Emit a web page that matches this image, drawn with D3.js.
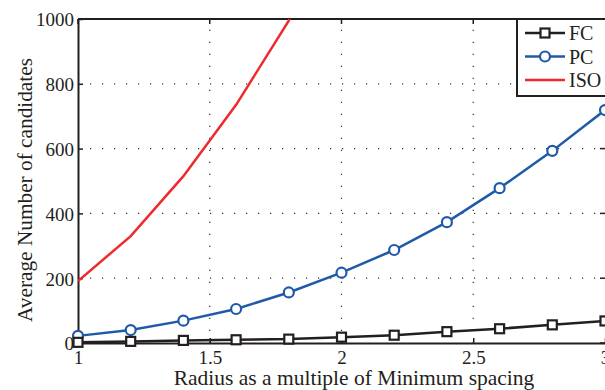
<!DOCTYPE html>
<html>
<head>
<meta charset="utf-8">
<script src="https://cdn.jsdelivr.net/npm/d3@7"></script>
<style>
  body { margin: 0; background: #fff; overflow: hidden; }
  svg { display: block; font-family: "Liberation Serif", "DejaVu Serif", serif; }
</style>
</head>
<body>
<svg class="chart"></svg>
<script>
const width = 605, height = 390;
const margin = { top: 19, left: 78, right: 605, bottom: 343 };

const radius = [1, 1.2, 1.4, 1.6, 1.8, 2, 2.2, 2.4, 2.6, 2.8, 3];
const fcValues = [2, 5, 8, 10, 12, 18, 24, 35, 44, 56, 68];
const pcValues = [22, 40, 69, 105, 156, 217, 287, 373, 478, 593, 719];
const isoRadius = [1, 1.2, 1.4, 1.6, 1.8, 2];
const isoValues = [191, 330, 515, 735, 995, 1400];
const xTicks = [1, 1.5, 2, 2.5, 3];
const yTicks = [0, 200, 400, 600, 800, 1000];
const legendNames = ["FC", "PC", "ISO"];

const black = "#231f20", blue = "#1f5aa8", red = "#ee2a2e";

const svg = d3.select(".chart").attr("width", width).attr("height", height);

const x = d3.scaleLinear().domain([1, 3]).range([margin.left, margin.right]);
const y = d3.scaleLinear().domain([0, 1000]).range([margin.bottom, margin.top]);

svg.append("clipPath").attr("id", "plot")
  .append("rect")
  .attr("x", margin.left).attr("y", margin.top)
  .attr("width", margin.right - margin.left + 2)
  .attr("height", margin.bottom - margin.top);

// grid
const grid = svg.append("g").attr("stroke", "#333").attr("stroke-width", 1.2)
  .attr("stroke-dasharray", "1.2 10.8");
grid.selectAll(".gy").data(yTicks.filter(d => d > 0 && d < 1000))
  .enter().append("line")
  .attr("x1", margin.left).attr("x2", margin.right)
  .attr("y1", d => y(d)).attr("y2", d => y(d));
grid.selectAll(".gx").data(xTicks.filter(d => d > 1 && d < 3))
  .enter().append("line")
  .attr("y1", margin.bottom).attr("y2", margin.top)
  .attr("x1", d => x(d)).attr("x2", d => x(d));

// axes
const xAxis = d3.axisBottom(x).tickValues(xTicks).tickFormat(d3.format("")).tickSizeInner(-5).tickSizeOuter(0).tickPadding(8);
const yAxis = d3.axisLeft(y).tickValues(yTicks).tickFormat(d3.format("")).tickSizeInner(-5).tickSizeOuter(0).tickPadding(4);

const gx = svg.append("g").attr("transform", `translate(0,${margin.bottom})`).call(xAxis);
const gy = svg.append("g").attr("transform", `translate(${margin.left},0)`).call(yAxis);
[gx, gy].forEach(g => {
  g.select(".domain").attr("stroke", black).attr("stroke-width", 2);
  g.selectAll(".tick line").attr("stroke", black).attr("stroke-width", 1.5);
  g.selectAll("text").attr("fill", black).style("font-size", "19px").style("font-family", "Liberation Serif");
});
gy.selectAll("text").attr("dy", "0.36em");

// top frame
svg.append("line").attr("x1", margin.left).attr("x2", margin.right)
  .attr("y1", margin.top).attr("y2", margin.top)
  .attr("stroke", black).attr("stroke-width", 2);
svg.append("g").selectAll("line").data(xTicks).enter().append("line")
  .attr("x1", d => x(d)).attr("x2", d => x(d))
  .attr("y1", margin.top).attr("y2", margin.top + 5)
  .attr("stroke", black).attr("stroke-width", 1.5);
svg.append("g").selectAll("line").data(yTicks).enter().append("line")
  .attr("x1", margin.right - 5).attr("x2", margin.right)
  .attr("y1", d => y(d)).attr("y2", d => y(d))
  .attr("stroke", black).attr("stroke-width", 1.5);

const line = d3.line().x(d => x(d[0])).y(d => y(d[1]));
const plot = svg.append("g").attr("clip-path", "url(#plot)");

// ISO
plot.append("path").datum(d3.zip(isoRadius, isoValues))
  .attr("d", line).attr("fill", "none").attr("stroke", red).attr("stroke-width", 2.5);

// PC
const pcData = d3.zip(radius, pcValues);
svg.append("path").datum(pcData)
  .attr("d", line).attr("fill", "none").attr("stroke", blue).attr("stroke-width", 2.5);
svg.append("g").selectAll("circle").data(pcData).enter().append("circle")
  .attr("cx", d => x(d[0])).attr("cy", d => y(d[1])).attr("r", 5)
  .attr("fill", "#fff").attr("stroke", blue).attr("stroke-width", 2.2);

// FC
const fcData = d3.zip(radius, fcValues);
svg.append("path").datum(fcData)
  .attr("d", line).attr("fill", "none").attr("stroke", black).attr("stroke-width", 2.5);
svg.append("g").selectAll("rect").data(fcData).enter().append("rect")
  .attr("x", d => x(d[0]) - 4.5).attr("y", d => y(d[1]) - 4.5)
  .attr("width", 9).attr("height", 9)
  .attr("fill", "#fff").attr("stroke", black).attr("stroke-width", 2.2);

// axis titles
svg.append("text")
  .attr("x", 354).attr("y", 385)
  .attr("text-anchor", "middle").attr("fill", black)
  .style("font-size", "21.5px")
  .text("Radius as a multiple of Minimum spacing");
svg.append("text")
  .attr("transform", "translate(32,190) rotate(-90)")
  .attr("text-anchor", "middle").attr("fill", black)
  .style("font-size", "21.3px")
  .text("Average Number of candidates");

// legend
const legend = svg.append("g");
legend.append("rect").attr("x", 517).attr("y", margin.top)
  .attr("width", 100).attr("height", 77)
  .attr("fill", "#fff").attr("stroke", black).attr("stroke-width", 2);
const colors = [black, blue, red];
const items = legend.selectAll(".item").data(legendNames).enter().append("g")
  .attr("transform", (d, i) => `translate(0,${33 + i * 23.5})`);
items.append("line").attr("x1", 525).attr("x2", 565)
  .attr("stroke", (d, i) => colors[i]).attr("stroke-width", 2.5);
items.filter((d, i) => i === 0).append("rect")
  .attr("x", 540.5).attr("y", -4.5).attr("width", 9).attr("height", 9)
  .attr("fill", "#fff").attr("stroke", black).attr("stroke-width", 2.2);
items.filter((d, i) => i === 1).append("circle")
  .attr("cx", 545).attr("r", 5)
  .attr("fill", "#fff").attr("stroke", blue).attr("stroke-width", 2.2);
items.append("text").attr("x", 569).attr("dy", "0.35em")
  .attr("fill", black).style("font-size", "20px")
  .text(d => d);
</script>
</body>
</html>
